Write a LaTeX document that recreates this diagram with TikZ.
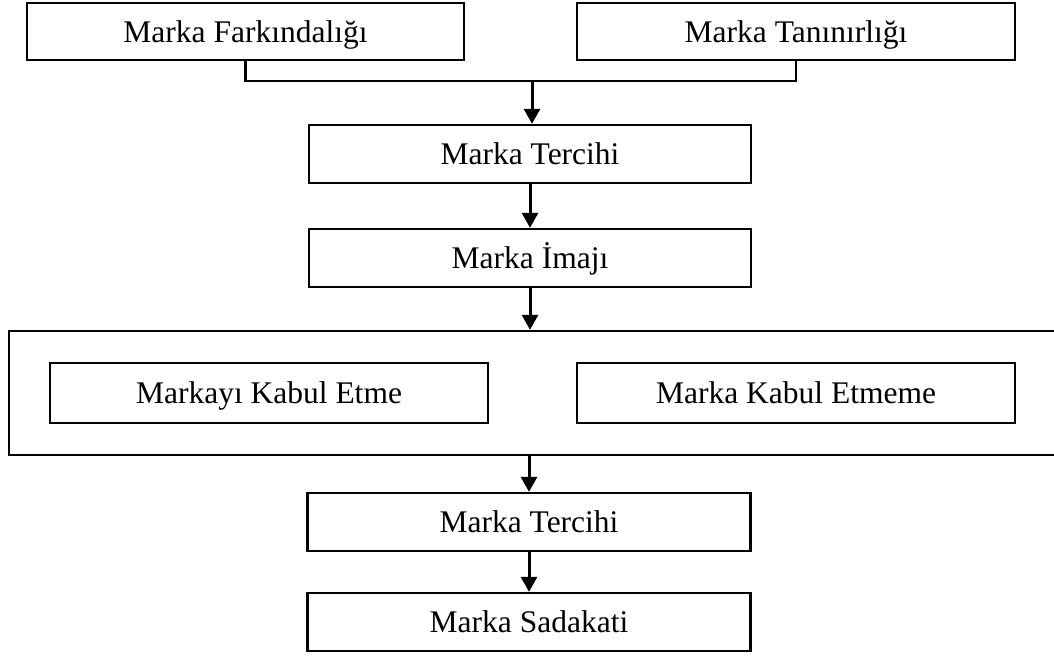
\documentclass[tikz,border=0pt]{standalone}
\usepackage{fontspec}
\setmainfont{Liberation Serif}
\usetikzlibrary{arrows.meta}
\begin{document}
\begin{tikzpicture}[x=1pt,y=-1pt,
  box/.style={draw=black,line width=2.4pt,inner sep=0pt,font=\fontsize{31.5}{36}\selectfont,text=black,text height=21pt,text depth=0pt},
  conn/.style={draw=black,line width=2.4pt},
  arr/.style={draw=black,line width=3pt,-{Triangle[width=16pt,length=15pt]}}]
\useasboundingbox (0,0) rectangle (1054,656);
\clip (0,0) rectangle (1054,656);
\node[box,minimum width=437pt,minimum height=57pt] (fark) at (245.5,31.5) {Marka Farkındalığı};
\node[box,minimum width=438pt,minimum height=57pt] (tan) at (796,31.5) {Marka Tanınırlığı};
\node[box,minimum width=442pt,minimum height=58pt] (ter1) at (530,154) {Marka Tercihi};
\node[box,minimum width=442pt,minimum height=58pt] (imaj) at (530,258) {Marka İmajı};
\node[box,minimum width=1055pt,minimum height=124pt] (big) at (536.5,393) {};
\node[box,minimum width=438pt,minimum height=60pt] (kabul) at (269,393) {Markayı Kabul Etme};
\node[box,minimum width=438pt,minimum height=60pt] (red) at (796,393) {Marka Kabul Etmeme};
\node[box,minimum width=443pt,minimum height=58pt] (ter2) at (529,522) {Marka Tercihi};
\node[box,minimum width=443pt,minimum height=58pt] (sad) at (529,622) {Marka Sadakati};
\coordinate (j) at (532,81);
\draw[conn] (fark.south) |- (j) -| (tan.south);
\draw[arr] (j) -- (j |- ter1.north);
\draw[arr] (ter1.south) -- (imaj.north);
\draw[arr] (imaj.south) -- (imaj.south |- big.north);
\draw[arr] (ter2.north |- big.south) -- (ter2.north);
\draw[arr] (ter2.south) -- (sad.north);
\end{tikzpicture}
\end{document}
